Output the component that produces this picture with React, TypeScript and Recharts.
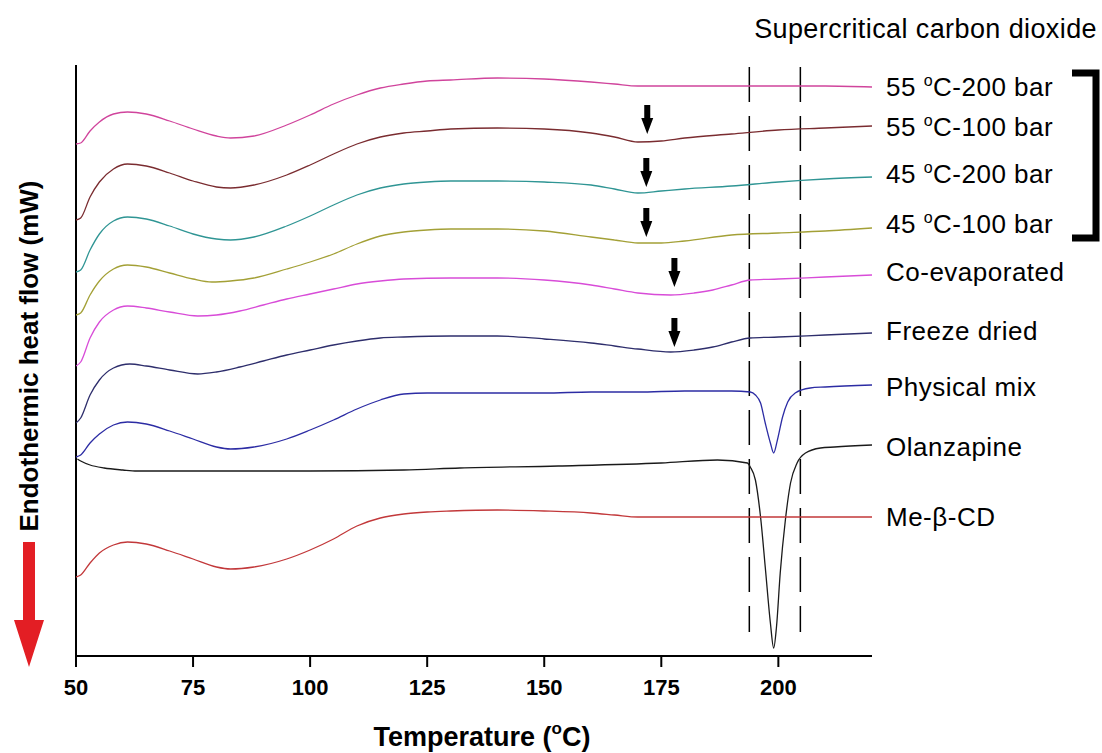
import React from "react";
import {
  LineChart,
  Line,
  XAxis,
  YAxis,
  ReferenceLine,
  ReferenceDot,
} from "recharts";

// DSC thermograms, [temperature °C, heat flow (arbitrary, stacked offsets)]
const s55c200: [number, number][] = [
  [50, 512], [51, 513], [53, 525], [55, 534], [58, 542], [61, 544], [65, 542], [70, 535],
  [75, 527], [80, 520], [83, 518], [88, 520], [95, 531], [100, 541], [105, 552], [110, 561],
  [115, 568], [120, 572], [125, 575], [130, 576], [140, 578], [150, 577], [160, 574],
  [165, 572], [170, 570], [175, 570], [180, 570], [190, 570], [200, 570], [210, 570], [220, 569],
];
const s55c100: [number, number][] = [
  [50, 436], [51, 438], [53, 459], [55, 474], [58, 487], [61, 492], [65, 490], [70, 483],
  [75, 475], [80, 469], [83, 468], [88, 471], [95, 481], [100, 491], [105, 502], [110, 512],
  [115, 519], [120, 523], [125, 525], [130, 527], [140, 528], [150, 527], [160, 523],
  [165, 519], [170, 514], [175, 515], [180, 518], [190, 522], [200, 526], [210, 528], [220, 530],
];
const s45c200: [number, number][] = [
  [50, 384], [51, 386], [53, 406], [55, 422], [58, 435], [61, 439], [65, 437], [70, 430],
  [75, 422], [80, 417], [83, 416], [88, 419], [95, 430], [100, 440], [105, 451], [110, 461],
  [115, 468], [120, 472], [125, 474], [130, 475], [140, 475], [150, 474], [160, 471],
  [165, 467], [170, 463], [175, 465], [180, 467], [190, 470], [200, 474], [210, 477], [220, 479],
];
const s45c100: [number, number][] = [
  [50, 341], [51, 343], [53, 361], [55, 375], [58, 387], [61, 391], [65, 389], [70, 383],
  [75, 377], [79, 374], [83, 375], [88, 378], [95, 387], [100, 394], [105, 402], [110, 412],
  [115, 420], [120, 424], [125, 426], [130, 427], [140, 427], [150, 425], [160, 419],
  [165, 416], [170, 413], [175, 413], [180, 415], [190, 421], [200, 423], [210, 425], [220, 428],
];
const coEvaporated: [number, number][] = [
  [50, 290], [51, 294], [53, 318], [55, 334], [58, 346], [61, 350], [65, 348], [70, 344],
  [76, 340], [80, 341], [85, 345], [90, 351], [95, 357], [100, 362], [105, 367], [110, 372],
  [115, 375], [120, 377], [130, 378], [140, 378], [150, 376], [160, 371], [165, 367],
  [170, 363], [177, 361], [182, 363], [186, 366], [190, 371], [194, 376], [200, 377],
  [210, 379], [220, 381],
];
const freezeDried: [number, number][] = [
  [50, 233], [51, 238], [53, 261], [55, 276], [58, 288], [61.5, 292], [65, 290], [70, 286],
  [76, 282], [80, 284], [85, 289], [90, 295], [95, 301], [100, 306], [105, 311], [110, 315],
  [115, 318], [120, 319], [130, 320], [140, 320], [150, 317], [160, 313], [165, 310],
  [170, 307], [177, 304], [182, 306], [186, 309], [190, 314], [194, 318], [200, 319],
  [210, 321], [220, 323],
];
const physicalMix: [number, number][] = [
  [50, 199], [51, 201], [53, 213], [55, 222], [58, 231], [61, 234], [65, 232], [70, 225],
  [75, 217], [80, 209], [83, 207], [88, 209], [95, 217], [100, 226], [105, 236], [110, 247],
  [115, 256], [120, 262], [125, 263], [130, 263], [140, 263], [150, 263], [160, 264],
  [170, 264], [180, 265], [190, 265], [194, 264], [195.1, 261], [196.2, 253], [197.2, 233],
  [198.3, 213], [199, 203], [199.8, 216], [200.9, 239], [202, 254], [203.6, 263],
  [206.8, 268], [210, 269], [220, 271],
];
const olanzapine: [number, number][] = [
  [50.3, 197], [51, 195], [53, 191], [56, 188], [60, 186], [63, 185], [70, 185], [80, 185],
  [100, 185], [120, 186], [132, 188], [153, 190], [175, 193], [187, 196], [193.4, 193],
  [194, 189], [195.1, 176], [196.2, 139], [197.2, 89], [198.3, 33], [199, 8], [199.6, 29],
  [200.4, 83], [201.5, 136], [202.6, 173], [204, 193], [205.8, 203], [209, 208], [212, 209],
  [220, 211],
];
const meBetaCD: [number, number][] = [
  [50, 79], [51, 81], [53, 93], [55, 103], [58, 111], [61, 114], [65, 112], [70, 105],
  [75, 97], [80, 89], [83, 87], [88, 89], [95, 97], [100, 106], [105, 117], [110, 130],
  [115, 138], [120, 142], [125, 144], [130, 145], [140, 146], [150, 145], [160, 143],
  [165, 141], [170, 139], [180, 139], [190, 139], [200, 139], [210, 139], [220, 139],
];

const seriesNames = [
  "55 °C-200 bar",
  "55 °C-100 bar",
  "45 °C-200 bar",
  "45 °C-100 bar",
  "Co-evaporated",
  "Freeze dried",
  "Physical mix",
  "Olanzapine",
  "Me-β-CD",
];
const seriesData = [
  s55c200, s55c100, s45c200, s45c100, coEvaporated,
  freezeDried, physicalMix, olanzapine, meBetaCD,
];

// glass transition markers (arrow tips) [temperature, heat flow]
const arrowMarks: [number, number][] = [
  [172, 522], [171.8, 469], [171.8, 419], [177.8, 369], [177.8, 309],
];
// melting range of olanzapine
const meltOnset = 193.8;
const meltEnd = 204.7;
const xTicks = [50, 75, 100, 125, 150, 175, 200];

const colors = [
  "#d0449c", "#7a2c30", "#2f9594", "#a3a036", "#d84cd8",
  "#2e2e6c", "#2c2ca4", "#1a1a1a", "#c2383a",
];
const labelY = [96, 136, 183, 233, 281, 340, 396, 456, 526];

const FONT = "'Liberation Sans', Arial, Helvetica, sans-serif";

function toRows(pts: [number, number][]) {
  return pts.map(([t, v]) => ({ t, v }));
}

function DownArrow(props: any) {
  const { cx, cy } = props;
  if (cx == null || cy == null) return null;
  const pts = [
    [cx - 3, cy - 29], [cx + 3, cy - 29], [cx + 3, cy - 16], [cx + 6, cy - 16],
    [cx, cy], [cx - 6, cy - 16], [cx - 3, cy - 16],
  ];
  return <polygon points={pts.map((p) => p.join(",")).join(" ")} fill="#000" />;
}

function Label({ text, x, y }: { text: string; x: number; y: number }) {
  const parts = text.split("°");
  return (
    <text x={x} y={y} fontSize={26} fontFamily={FONT} fill="#000" letterSpacing={0.5}>
      {parts.length === 1 ? (
        text
      ) : (
        <>
          <tspan>{parts[0]}</tspan>
          <tspan fontSize={16} dy={-10}>o</tspan>
          <tspan dy={10}>{parts[1]}</tspan>
        </>
      )}
    </text>
  );
}

export default function App() {
  return (
    <div style={{ position: "absolute", left: 0, top: 0, width: 1102, height: 753, background: "#fff" }}>
      <LineChart
        width={1102}
        height={753}
        margin={{ top: 65, right: 230, bottom: 67, left: 76 }}
      >
        <XAxis
          type="number"
          dataKey="t"
          domain={[50, 220]}
          ticks={xTicks}
          allowDataOverflow
          height={30}
          tickSize={11}
          tickMargin={12}
          axisLine={{ stroke: "#000", strokeWidth: 2 }}
          tickLine={{ stroke: "#000", strokeWidth: 2 }}
          tick={{ fill: "#000", fontSize: 22, fontWeight: "bold", fontFamily: FONT }}
        />
        <YAxis hide type="number" domain={[0, 591]} allowDataOverflow />
        <ReferenceLine x={50} stroke="#000" strokeWidth={2} ifOverflow="visible" />
        {[meltOnset, meltEnd].map((t) => (
          <ReferenceLine
            key={t}
            segment={[{ x: t, y: 589 }, { x: t, y: 24 }]}
            stroke="#000"
            strokeWidth={1.5}
            strokeDasharray="35 14"
            ifOverflow="visible"
          />
        ))}
        {seriesData.map((d, i) => (
          <Line
            key={seriesNames[i]}
            data={toRows(d)}
            dataKey="v"
            name={seriesNames[i]}
            type="monotone"
            stroke={colors[i]}
            strokeWidth={1.3}
            dot={false}
            isAnimationActive={false}
          />
        ))}
        {arrowMarks.map(([t, v], i) => (
          <ReferenceDot key={i} x={t} y={v} r={0} ifOverflow="visible" shape={DownArrow} />
        ))}
      </LineChart>
      <svg
        width={1102}
        height={753}
        style={{ position: "absolute", left: 0, top: 0, pointerEvents: "none" }}
      >
        <text x={1097} y={38} textAnchor="end" fontSize={27} letterSpacing={0.4} fontFamily={FONT} fill="#000">
          Supercritical carbon dioxide
        </text>
        {seriesNames.map((name, i) => (
          <Label key={name} text={name} x={886} y={labelY[i]} />
        ))}
        <path d="M1072 73 H1096 V238 H1072" fill="none" stroke="#000" strokeWidth={7} />
        <text
          transform="translate(38 356) rotate(-90)"
          textAnchor="middle"
          fontSize={26}
          fontWeight="bold"
          fontFamily={FONT}
          fill="#000"
        >
          Endothermic heat flow (mW)
        </text>
        <polygon points="23,542 35,542 35,620 44,620 29,667 14,620 23,620" fill="#e31e24" />
        <text x={482} y={746} textAnchor="middle" fontSize={27} fontWeight="bold" fontFamily={FONT} fill="#000">
          <tspan>Temperature (</tspan>
          <tspan fontSize={17} dy={-12}>o</tspan>
          <tspan dy={12}>C)</tspan>
        </text>
      </svg>
    </div>
  );
}
